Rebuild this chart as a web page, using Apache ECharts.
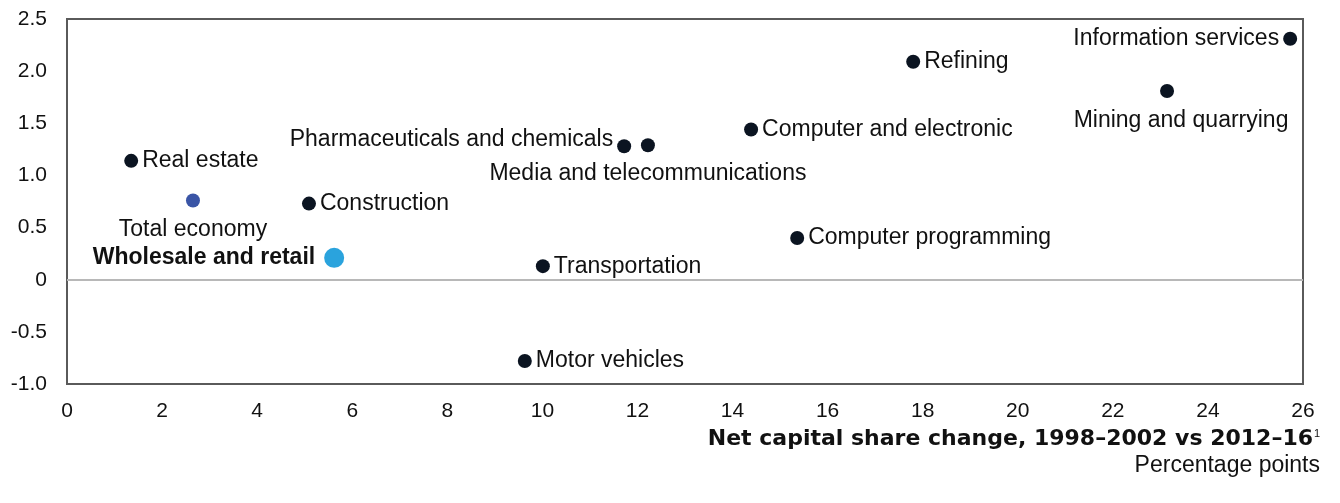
<!DOCTYPE html>
<html>
<head>
<meta charset="UTF-8">
<title>Net capital share change</title>
<script src="https://cdn.jsdelivr.net/npm/echarts@6/dist/echarts.min.js"></script>
<style>
    body { margin: 0; background: #fff; }
    #chart { width: 1340px; height: 503px; }
</style>
</head>
<body>
<div id="chart"></div>
<script>
// 数据
var sectors = ['Real estate', 'Total economy', 'Construction', 'Wholesale and retail',
    'Pharmaceuticals and chemicals', 'Media and telecommunications', 'Computer and electronic',
    'Refining', 'Information services', 'Mining and quarrying', 'Computer programming',
    'Transportation', 'Motor vehicles'];
var shareChange = [1.35, 2.65, 5.09, 5.62, 11.72, 12.22, 14.39, 17.8, 25.73, 23.14, 15.36, 10.01, 9.63];
var otherValue = [1.14, 0.76, 0.73, 0.21, 1.28, 1.29, 1.44, 2.09, 2.31, 1.81, 0.40, 0.13, -0.78];
var xTicks = [0, 2, 4, 6, 8, 10, 12, 14, 16, 18, 20, 22, 24, 26];
var yTicks = [-1.0, -0.5, 0, 0.5, 1.0, 1.5, 2.0, 2.5];

// 标签位置（样式，与数据分开）
var labelStyle = {
    'Total economy': { position: 'bottom', distance: 11 },
    'Wholesale and retail': { position: 'left', fontWeight: 'bold', distance: 9 },
    'Pharmaceuticals and chemicals': { position: 'left', offset: [0, -7] },
    'Media and telecommunications': { position: 'bottom', distance: 10 },
    'Information services': { position: 'left' },
    'Mining and quarrying': { position: 'bottom', distance: 11, offset: [14, 0] }
};
var colorMap = { 'Total economy': '#3a55a6', 'Wholesale and retail': '#2aa3dd' };

var chart = echarts.init(document.getElementById('chart'));
var textColor = '#111';
var fontFam = '"Liberation Sans", Arial, sans-serif';

var points = sectors.map(function (name, i) {
    var ls = labelStyle[name] || {};
    return {
        name: name,
        value: [shareChange[i], otherValue[i]],
        symbolSize: name === 'Wholesale and retail' ? 20 : 14,
        itemStyle: { color: colorMap[name] || '#0b1421', opacity: 1 },
        label: {
            show: true,
            formatter: '{b}',
            position: ls.position || 'right',
            distance: ls.distance != null ? ls.distance : 4,
            offset: ls.offset || [0, 0],
            fontWeight: ls.fontWeight || 'normal',
            color: textColor,
            fontSize: 23,
            fontFamily: fontFam
        }
    };
});

var option = {
    animation: false,
    grid: {
        left: 67, top: 19, right: 37, bottom: 119,
        show: true, borderColor: '#5a5a5a', borderWidth: 2,
        backgroundColor: 'transparent'
    },
    xAxis: {
        type: 'value', min: 0, max: 26, interval: 2,
        axisLine: { show: false }, axisTick: { show: false }, splitLine: { show: false },
        axisLabel: {
            margin: 17, color: textColor, fontSize: 21, fontFamily: fontFam,
            formatter: function (v) { return xTicks.indexOf(v) >= 0 ? String(v) : ''; }
        }
    },
    yAxis: {
        type: 'value', min: -1, max: 2.5, interval: 0.5,
        axisLine: { show: false }, axisTick: { show: false }, splitLine: { show: false },
        axisLabel: {
            margin: 20, color: textColor, fontSize: 21, fontFamily: fontFam,
            formatter: function (v) {
                if (yTicks.indexOf(v) < 0) return '';
                return v === 0 ? '0' : v.toFixed(1);
            }
        }
    },
    graphic: [
        {
            type: 'text', right: 27, top: 428,
            style: {
                text: 'Net capital share change, 1998–2002 vs 2012–16',
                font: 'bold 22px "DejaVu Sans", sans-serif', fill: textColor
            }
        },
        {
            type: 'text', right: 20, top: 428,
            style: { text: '1', font: '11px ' + fontFam, fill: textColor }
        },
        {
            type: 'text', right: 20, top: 454,
            style: { text: 'Percentage points', font: '23px ' + fontFam, fill: textColor }
        }
    ],
    series: [{
        type: 'scatter',
        data: points,
        z: 3,
        markLine: {
            silent: true,
            symbol: 'none',
            label: { show: false },
            lineStyle: { color: '#b8b8b8', width: 2, type: 'solid' },
            data: [{ yAxis: 0 }]
        }
    }]
};

chart.setOption(option);
</script>
</body>
</html>
